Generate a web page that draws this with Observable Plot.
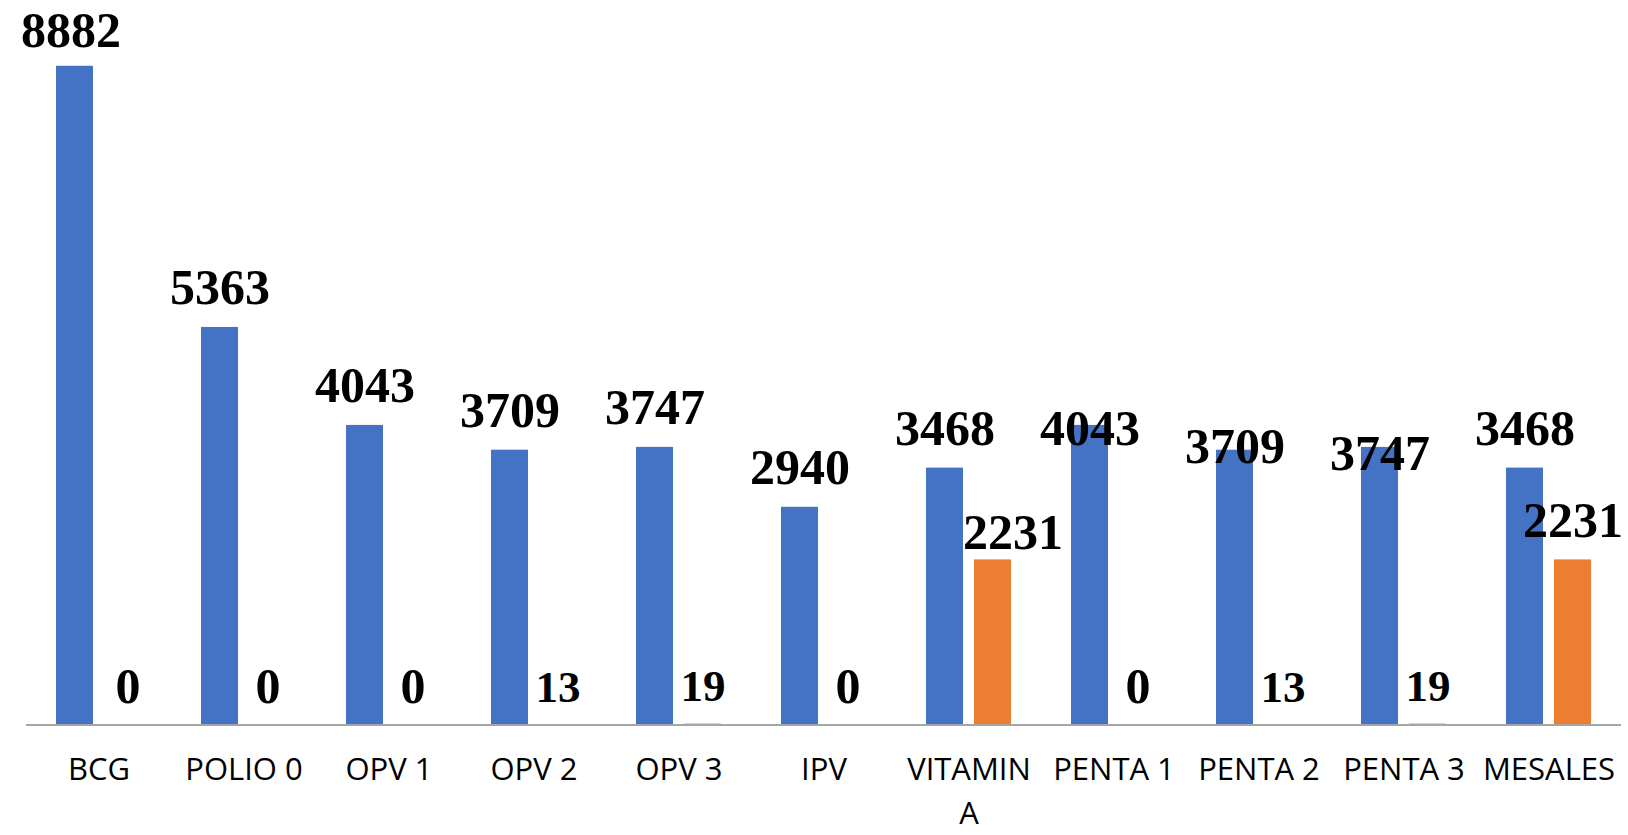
<!DOCTYPE html>
<html>
<head>
<meta charset="utf-8">
<script src="https://cdn.jsdelivr.net/npm/d3@7"></script>
<script src="https://cdn.jsdelivr.net/npm/@observablehq/plot@0.6"></script>
<style>
  html, body { margin: 0; padding: 0; background: #ffffff; overflow: hidden; }
  #chart svg { display: block; }
</style>
</head>
<body>
<div id="chart"></div>
<script>
// ---- data ----
const categories = ["BCG", "POLIO 0", "OPV 1", "OPV 2", "OPV 3", "IPV", "VITAMIN A", "PENTA 1", "PENTA 2", "PENTA 3", "MESALES"];
const seriesNames = ["Series1", "Series2"];
const series1 = [8882, 5363, 4043, 3709, 3747, 2940, 3468, 4043, 3709, 3747, 3468];
const series2 = [0, 0, 0, 13, 19, 0, 2231, 0, 13, 19, 2231];
const tickLabels = ["BCG", "POLIO 0", "OPV 1", "OPV 2", "OPV 3", "IPV", "VITAMIN\nA", "PENTA 1", "PENTA 2", "PENTA 3", "MESALES"];

// ---- table built from the arrays ----
const rows = categories.flatMap((c, i) => [
  {category: c, series: seriesNames[0], value: series1[i]},
  {category: c, series: seriesNames[1], value: series2[i]}
]);

// label nudges (pixel offsets for individually moved data labels)
const nudges = [
  {category: "PENTA 1", series: "Series1", dx: 0, dy: 43},
  {category: "PENTA 2", series: "Series1", dx: 0, dy: 36},
  {category: "PENTA 3", series: "Series1", dx: 0, dy: 46},
  {category: "VITAMIN A", series: "Series2", dx: 20, dy: 12},
  {category: "BCG", series: "Series2", dx: 5, dy: 0},
  {category: "BCG", series: "Series1", dx: -4, dy: 4}
];
const key = d => d.category + "|" + d.series;
const nudged = new Set(nudges.map(key));

const labelSize = d => (d.value > 0 && d.value < 100 ? 45 : 50);
const labelOpts = {
  x: "series", y: "value", fx: "category",
  text: d => String(d.value),
  fontFamily: "'Liberation Serif', 'Times New Roman', serif",
  fontWeight: "bold",
  fontSize: labelSize,
  fill: "#000000",
  lineAnchor: "bottom",
  textAnchor: "middle"
};

const labelMarks = [
  Plot.text(rows.filter(d => !nudged.has(key(d))), {...labelOpts, dy: -23}),
  ...nudges.map(n => Plot.text(rows.filter(d => key(d) === key(n)), {...labelOpts, dx: n.dx, dy: -23 + n.dy}))
];

const chart = Plot.plot({
  width: 1628,
  height: 835,
  marginTop: 57,
  marginBottom: 110,
  marginLeft: 23,
  marginRight: 5,
  style: {background: "#ffffff"},
  fx: {domain: categories, padding: 0, axis: null},
  x: {domain: seriesNames, paddingInner: 0.233, paddingOuter: 0.613, axis: null},
  y: {domain: [0, 9000], axis: null},
  color: {domain: seriesNames, range: ["#4472C4", "#ED7D31"]},
  marks: [
    Plot.barY(rows, {x: "series", y: "value", fx: "category", fill: "series"}),
    Plot.ruleY([0], {stroke: "#a6a6a6", strokeWidth: 2.2, dy: -0.5}),
    ...labelMarks,
    Plot.axisFx({
      anchor: "bottom",
      tickSize: 0,
      tickPadding: 24,
      label: null,
      fontSize: 31,
      fontFamily: "'Open Sans', sans-serif",
      fill: "#000000",
      lineHeight: 1.4,
      tickFormat: c => tickLabels[categories.indexOf(c)]
    })
  ]
});

document.getElementById("chart").appendChild(chart);
</script>
</body>
</html>
